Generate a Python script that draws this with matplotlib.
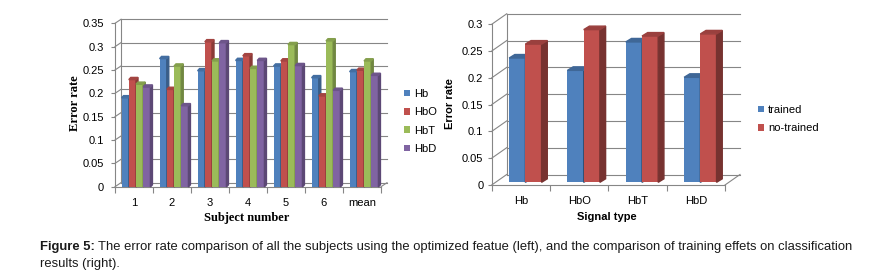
import numpy as np
import matplotlib
matplotlib.use('Agg')
import matplotlib.pyplot as plt

# left chart: error rate per subject and signal
subjects = ['1', '2', '3', '4', '5', '6', 'mean']
signals = ['Hb', 'HbO', 'HbT', 'HbD']
err_hb = [0.191, 0.275, 0.249, 0.271, 0.259, 0.234, 0.247]
err_hbo = [0.230, 0.209, 0.311, 0.281, 0.270, 0.195, 0.250]
err_hbt = [0.220, 0.259, 0.270, 0.254, 0.305, 0.313, 0.270]
err_hbd = [0.214, 0.174, 0.309, 0.271, 0.260, 0.207, 0.239]

# right chart: trained vs no-trained
sig_types = ['Hb', 'HbO', 'HbT', 'HbD']
trained = [0.232, 0.209, 0.262, 0.196]
no_trained = [0.258, 0.285, 0.273, 0.277]

W, H = 878, 278
fig = plt.figure(figsize=(W / 100., H / 100.), dpi=100)
sans = 'Liberation Sans'
grid_c = '#868686'

def px_axes(l, t, r, b):
    return fig.add_axes([l / W, 1 - b / H, (r - l) / W, (b - t) / H])

def ftext(x, y, s, **kw):
    return fig.text(x / W, 1 - y / H, s, **kw)

def shade(c, f):
    c = np.array(matplotlib.colors.to_rgb(c))
    return tuple(np.clip(c * f, 0, 1))

def setup(ax, ncat, ymax, step, wall, wpx, hpx):
    ax.set_xlim(-0.5, ncat - 0.5)
    ax.set_ylim(0, ymax)
    sx = ncat / wpx
    sy = ymax / hpx
    wdx, wdy = wall[0] * sx, wall[1] * sy
    x0, x1 = -0.5, ncat - 0.5
    ticks = np.arange(0, ymax + step / 2, step)
    for v in ticks:
        ax.plot([x0 + wdx, x1 + wdx], [v + wdy, v + wdy], color=grid_c, lw=0.8, clip_on=False, zorder=1)
        ax.plot([x0, x0 + wdx], [v, v + wdy], color=grid_c, lw=0.8, clip_on=False, zorder=1)
    ax.plot([x0 + wdx, x0 + wdx], [wdy, ymax + wdy], color=grid_c, lw=0.8, clip_on=False, zorder=1)
    ax.plot([x1, x1 + wdx], [0, wdy], color=grid_c, lw=0.8, clip_on=False, zorder=1)
    for s in ['top', 'right']:
        ax.spines[s].set_visible(False)
    for s in ['left', 'bottom']:
        ax.spines[s].set_color(grid_c)
        ax.spines[s].set_linewidth(0.8)
    ax.set_yticks(ticks)
    ax.set_yticklabels(['0' if v == 0 else ('%g' % round(v, 2)) for v in ticks])
    ax.set_xticks(np.arange(ncat))
    ax.set_xticks(np.arange(-0.5, ncat, 1.0), minor=True)
    ax.tick_params(axis='x', which='major', length=0, pad=8)
    ax.tick_params(axis='x', which='minor', length=4, color=grid_c, width=0.8)
    ax.tick_params(axis='y', length=3, color=grid_c, width=0.8)
    ax.patch.set_visible(False)
    return sx, sy

def bar3d(ax, xs, vals, w, color, side, top, off, depth, sx, sy, label):
    xs = np.asarray(xs, dtype=float) + off[0] * sx
    y0 = off[1] * sy
    dx, dy = depth[0] * sx, depth[1] * sy
    bars = ax.bar(xs, vals, w, bottom=y0, color=color, label=label, zorder=3, clip_on=False)
    for x, v in zip(xs, vals):
        xr = x + w / 2
        xl = x - w / 2
        ax.fill([xr, xr + dx, xr + dx, xr], [y0, y0 + dy, y0 + v + dy, y0 + v], color=side, zorder=3, clip_on=False)
        ax.fill([xl, xr, xr + dx, xl + dx], [y0 + v, y0 + v, y0 + v + dy, y0 + v + dy], color=top, zorder=3, clip_on=False)
    return bars

# ---------------- left chart ----------------
L = (115, 23.3, 381, 186.7)
ax1 = px_axes(*L)
sx, sy = setup(ax1, len(subjects), 0.35, 0.05, (6, 4), L[2] - L[0], L[3] - L[1])
ax1.set_xticklabels(subjects, fontsize=8, family=sans)
for t in ax1.get_yticklabels():
    t.set_fontsize(8)
    t.set_family(sans)
ax1.tick_params(axis='y', pad=5)

cols1 = ['#4f81bd', '#c0504d', '#9bbb59', '#8064a2']
series1 = [err_hb, err_hbo, err_hbt, err_hbd]
bw = 0.19
handles1 = []
x = np.arange(len(subjects))
for i, (vals, c) in enumerate(zip(series1, cols1)):
    b = bar3d(ax1, x + (i - 1.5) * bw, vals, bw, c, shade(c, 0.72), shade(c, 0.85),
              (2, -0.3), (2, 2.2), sx, sy, signals[i])
    handles1.append(b)

ftext(75, 103, 'Error rate', rotation=90, ha='center', va='center', fontsize=9,
      family='Liberation Serif', weight='bold')
ftext(247, 218, 'Subject number', ha='center', va='center', fontsize=9,
      family='Liberation Serif', weight='bold')
fig.legend(handles1, signals, loc='center left', bbox_to_anchor=(404 / W, 1 - 121.5 / H),
           frameon=False, prop={'family': sans, 'size': 8}, handlelength=0.55, handleheight=0.55,
           handletextpad=0.35, labelspacing=0.75, borderaxespad=0, borderpad=0)

# ---------------- right chart ----------------
R = (491.7, 24.3, 725, 185)
ax2 = px_axes(*R)
sx2, sy2 = setup(ax2, len(sig_types), 0.3, 0.05, (15, 10.5), R[2] - R[0], R[3] - R[1])
ax2.set_xticklabels(sig_types, fontsize=8, family=sans)
for t in ax2.get_yticklabels():
    t.set_fontsize(8)
    t.set_family(sans)
ax2.tick_params(axis='y', pad=3)

cols2 = ['#4f81bd', '#c0504d']
bw2 = 0.278
handles2 = []
x2 = np.arange(len(sig_types))
for i, (vals, c, lab) in enumerate(zip([trained, no_trained], cols2, ['trained', 'no-trained'])):
    b = bar3d(ax2, x2 + (i - 0.5) * bw2, vals, bw2, c, shade(c, 0.62), shade(c, 0.8),
              (4.5, 2.7), (5.7, 3.5), sx2, sy2, lab)
    handles2.append(b)

ftext(450, 104, 'Error rate', rotation=90, ha='center', va='center', fontsize=8,
      family=sans, weight='bold')
ftext(607, 217, 'Signal type', ha='center', va='center', fontsize=8,
      family=sans, weight='bold')
fig.legend(handles2, ['trained', 'no-trained'], loc='center left', bbox_to_anchor=(758 / W, 1 - 119 / H),
           frameon=False, prop={'family': sans, 'size': 8}, handlelength=0.55, handleheight=0.55,
           handletextpad=0.35, labelspacing=0.75, borderaxespad=0, borderpad=0)

# ---------------- caption ----------------
cap1 = ftext(40, 250, 'Figure 5:', fontsize=9.4, family=sans, weight='bold', va='baseline', color='#1a1a1a')
r = fig.canvas.get_renderer()
bb = cap1.get_window_extent(r)
ftext(40 + bb.width + 3, 250, 'The error rate comparison of all the subjects using the optimized featue (left), '
      'and the comparison of training effets on classification', fontsize=9.4, family=sans,
      va='baseline', color='#1a1a1a')
ftext(40, 267, 'results (right).', fontsize=9.4, family=sans, va='baseline', color='#1a1a1a')

fig.savefig('out.png', dpi=100)
